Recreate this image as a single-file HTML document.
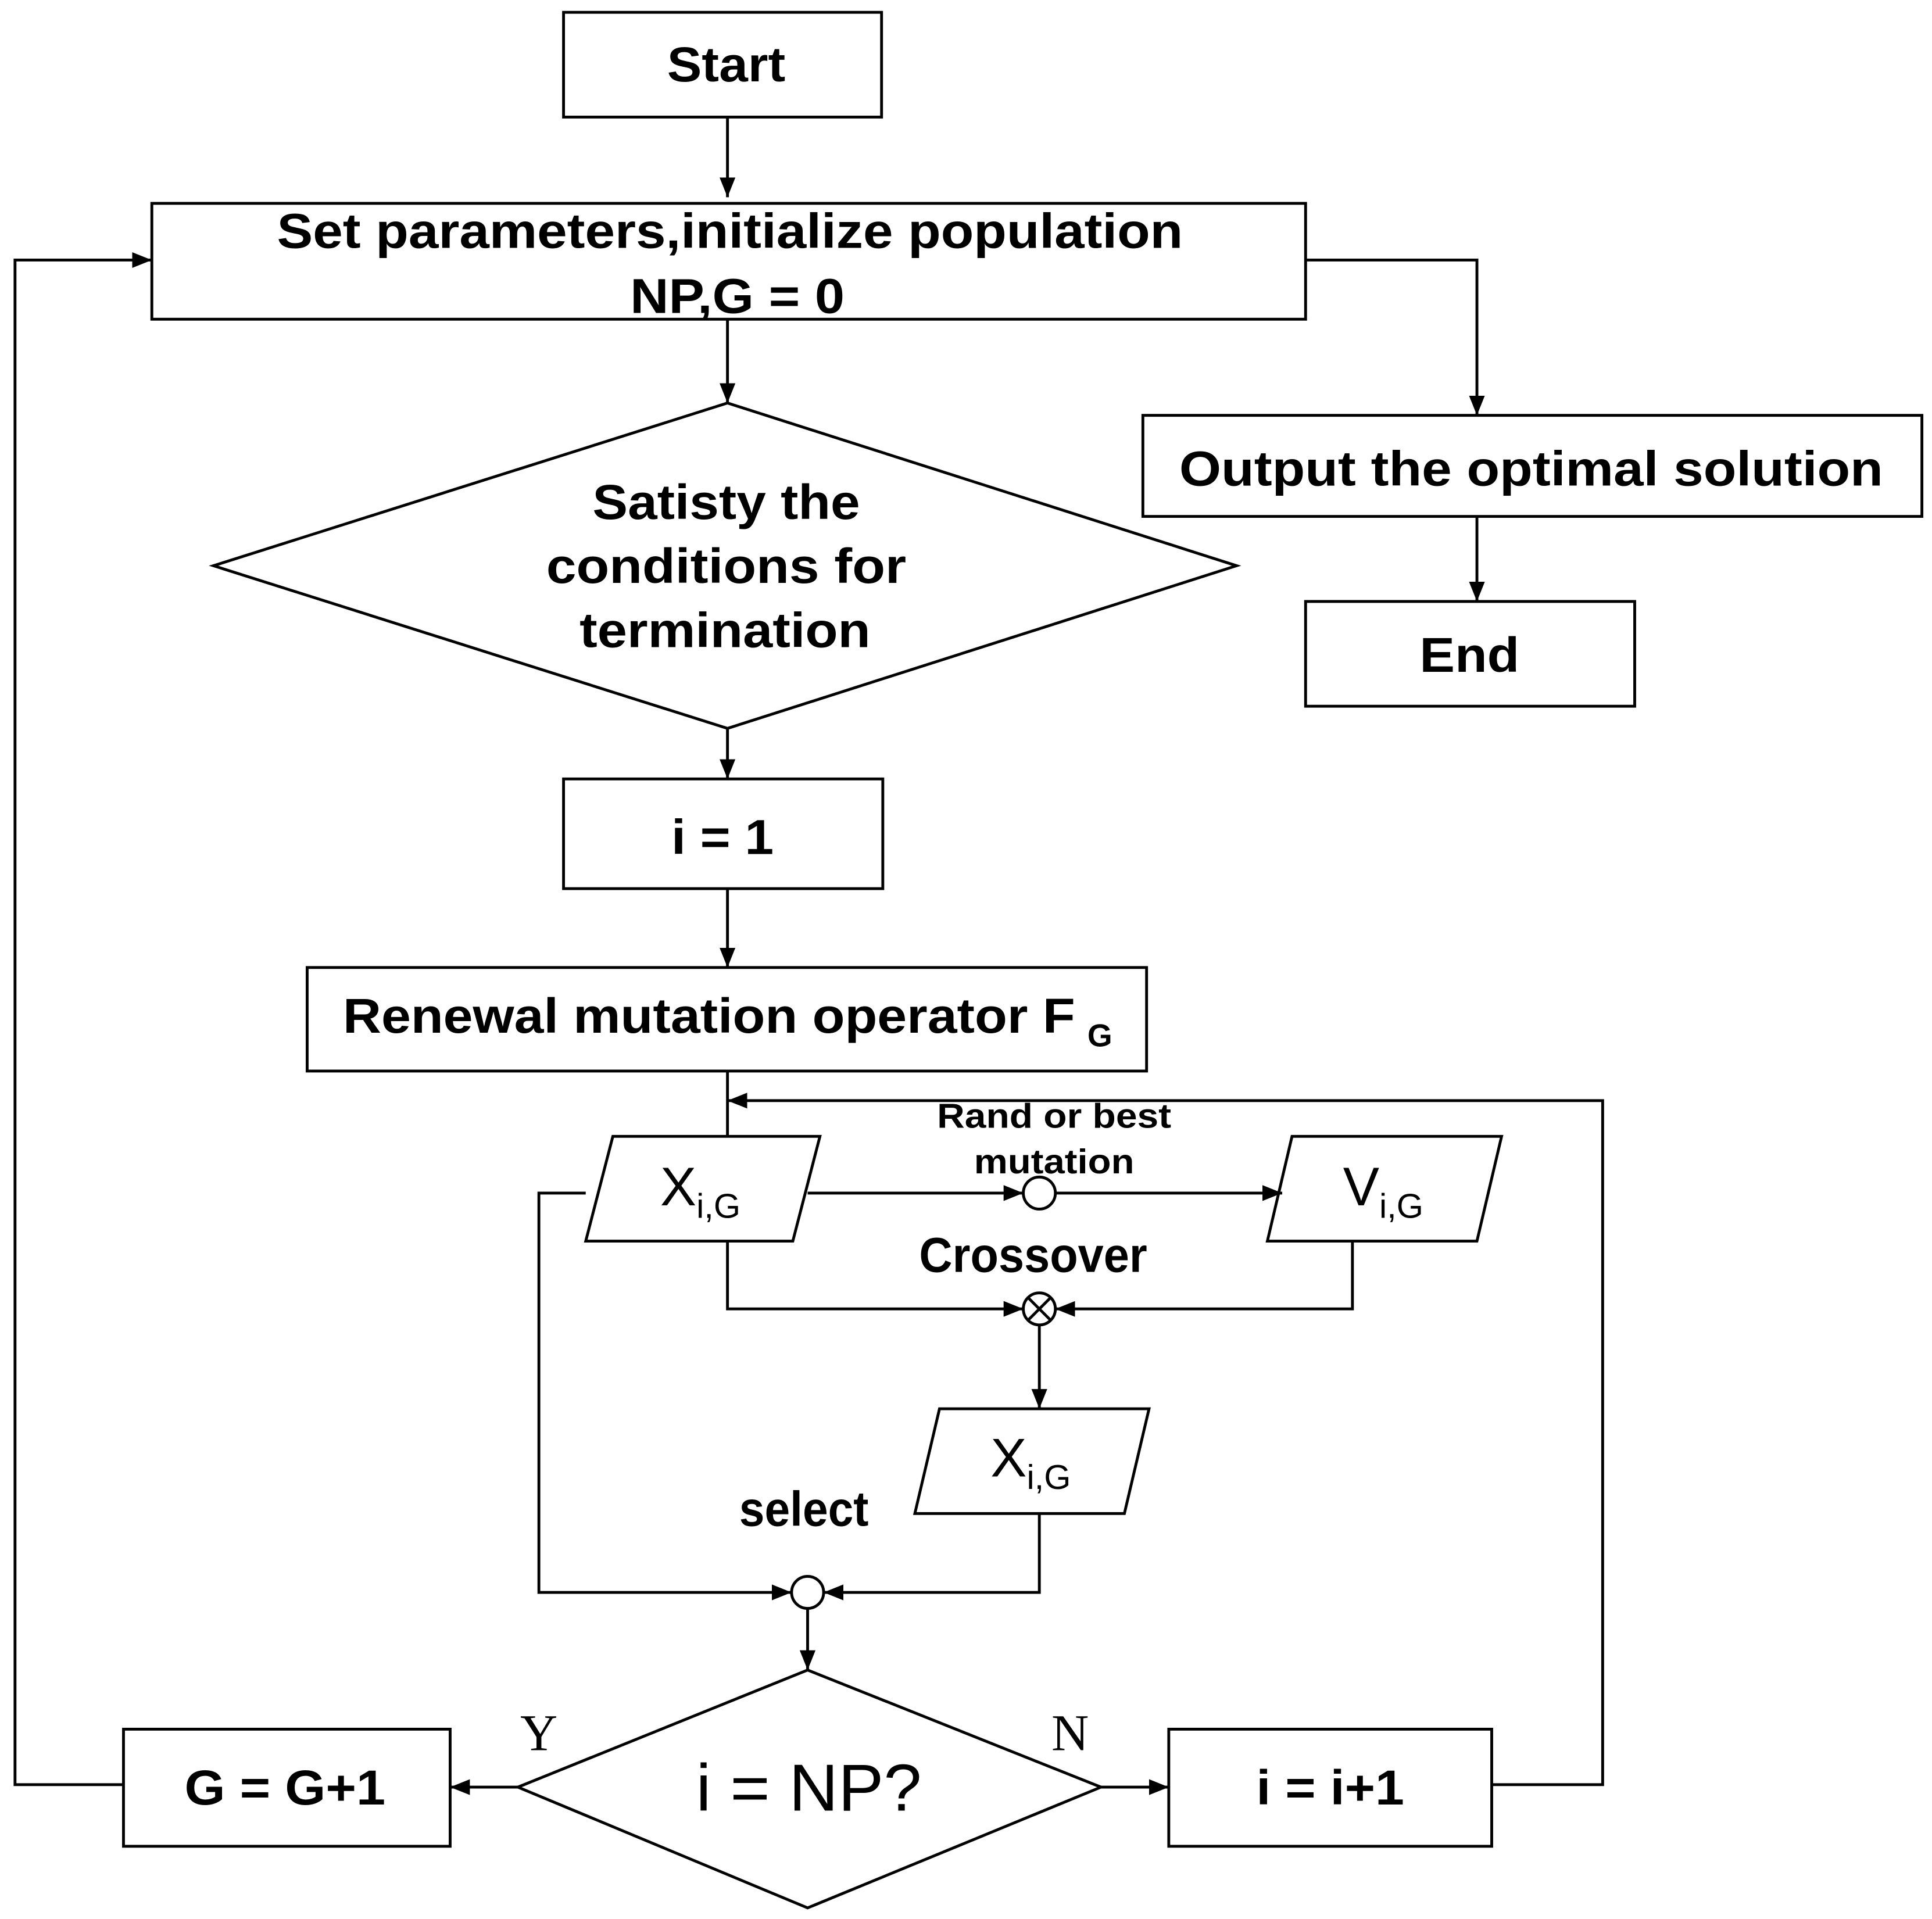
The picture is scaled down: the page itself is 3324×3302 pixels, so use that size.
<!DOCTYPE html>
<html><head><meta charset="utf-8"><style>
html,body{margin:0;padding:0;background:#fff;}
svg{display:block;}
text{font-family:"Liberation Sans",Arial,sans-serif;fill:#000;}
.b{font-weight:bold;font-size:40px;text-anchor:middle;}
.s{font-weight:bold;font-size:28px;text-anchor:middle;}
.n{font-size:44px;text-anchor:middle;}
</style></head><body>
<svg width="3324" height="3302" viewBox="0 0 1567 1557" xmlns="http://www.w3.org/2000/svg">
<defs>
<marker id="a2" viewBox="0 0 10 10" refX="10" refY="5" markerWidth="16" markerHeight="16" markerUnits="userSpaceOnUse" orient="auto"><path d="M0,1L10,5L0,9z" fill="#000"/></marker></defs>
<g fill="none" stroke="#000" stroke-width="2.3">
<rect x="457" y="10" width="258" height="85"/>
<rect x="123" y="165" width="936" height="94"/>
<rect x="927" y="337" width="632" height="82"/>
<rect x="1059" y="488" width="267" height="85"/>
<polygon points="590,327 1003,459 590,591 173,459"/>
<rect x="457" y="632" width="259" height="89"/>
<rect x="249" y="785" width="681" height="84"/>
<polygon points="497,922 665,922 643,1007 475,1007"/>
<polygon points="1048,922 1218,922 1198,1007 1028,1007"/>
<polygon points="762,1143 932,1143 912,1228 742,1228"/>
<polygon points="655,1355 893,1450 655,1548 420,1450"/>
<rect x="100" y="1403" width="265" height="95"/>
<rect x="948" y="1403" width="262" height="95"/>
<circle cx="843" cy="968" r="13"/>
<circle cx="843" cy="1062" r="13"/>
<path d="M834,1053L852,1071M852,1053L834,1071"/>
<circle cx="655" cy="1292" r="13"/>
</g>
<g fill="none" stroke="#000" stroke-width="2.3" marker-end="url(#a2)">
<path d="M590,95V160"/>
<path d="M100,1448H12V211H123"/>
<path d="M1059,211H1198V337"/>
<path d="M1198,419V488"/>
<path d="M590,259V327"/>
<path d="M590,591V632"/>
<path d="M590,721V785"/>
<path d="M1210,1448H1300V893H590"/>
<path d="M655,968H830"/>
<path d="M856,968H1040"/>
<path d="M590,1007V1062H830"/>
<path d="M1097,1007V1062H856"/>
<path d="M843,1075V1143"/>
<path d="M843,1228V1292H668"/>
<path d="M475,968H437V1292H642"/>
<path d="M655,1305V1355"/>
<path d="M420,1450H365"/>
<path d="M893,1450H948"/>
</g>
<path d="M590,869V922" stroke="#000" stroke-width="2.3"/>
<text class="b" x="589" y="66" textLength="96" lengthAdjust="spacingAndGlyphs">Start</text>
<text class="b" x="592" y="201" textLength="735" lengthAdjust="spacingAndGlyphs">Set parameters,initialize population</text>
<text class="b" x="598" y="254" textLength="174" lengthAdjust="spacingAndGlyphs">NP,G = 0</text>
<text class="b" x="1242" y="394" textLength="571" lengthAdjust="spacingAndGlyphs">Output the optimal solution</text>
<text class="b" x="1192" y="545" textLength="81" lengthAdjust="spacingAndGlyphs">End</text>
<text class="b" x="589" y="421" textLength="217" lengthAdjust="spacingAndGlyphs">Satisty the</text>
<text class="b" x="589" y="473" textLength="292" lengthAdjust="spacingAndGlyphs">conditions for</text>
<text class="b" x="588" y="525" textLength="236" lengthAdjust="spacingAndGlyphs">termination</text>
<text class="b" x="586" y="693" textLength="83" lengthAdjust="spacingAndGlyphs">i = 1</text>
<text class="b" x="575" y="838" textLength="594" lengthAdjust="spacingAndGlyphs">Renewal mutation operator F</text>
<text x="882" y="849" font-weight="bold" font-size="26">G</text>
<text class="n" x="568" y="978">X<tspan font-size="28" dy="10">i,G</tspan></text>
<text class="n" x="1122" y="978">V<tspan font-size="28" dy="10">i,G</tspan></text>
<text class="n" x="836" y="1198">X<tspan font-size="28" dy="10">i,G</tspan></text>
<text class="s" x="855" y="915" textLength="190" lengthAdjust="spacingAndGlyphs">Rand or best</text>
<text class="s" x="855" y="952" textLength="130" lengthAdjust="spacingAndGlyphs">mutation</text>
<text class="b" x="838" y="1032" textLength="185" lengthAdjust="spacingAndGlyphs">Crossover</text>
<text class="b" x="652" y="1238" textLength="105" lengthAdjust="spacingAndGlyphs">select</text>
<text class="n" x="656" y="1469" style="font-size:54px" textLength="183" lengthAdjust="spacingAndGlyphs">i = NP?</text>
<text class="b" x="231" y="1464" textLength="163" lengthAdjust="spacingAndGlyphs">G = G+1</text>
<text class="b" x="1079" y="1464" textLength="120" lengthAdjust="spacingAndGlyphs">i = i+1</text>
<text x="437" y="1420" style="font-family:'Liberation Serif',serif;font-size:42px" text-anchor="middle">Y</text>
<text x="868" y="1420" style="font-family:'Liberation Serif',serif;font-size:42px" text-anchor="middle">N</text>
</svg>
</body></html>
